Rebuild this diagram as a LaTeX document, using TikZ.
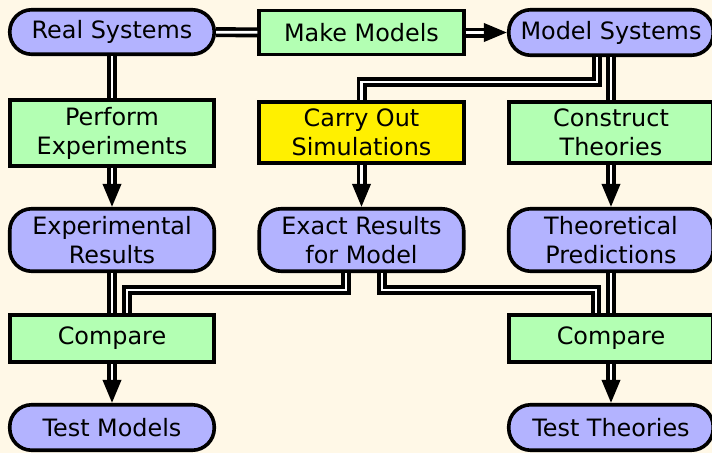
\documentclass[tikz,border=0pt]{standalone}
\usepackage{fontspec}
\setmainfont{DejaVu Sans}
\usetikzlibrary{arrows.meta}
\definecolor{bg}{HTML}{FFF8E7}
\definecolor{pblue}{HTML}{B3B3FF}
\definecolor{pgreen}{HTML}{B3FFB3}
\definecolor{pyellow}{HTML}{FFF000}
\tikzset{
  box/.style={draw=black, line width=3.6pt, minimum width=204.5pt, align=center,
    inner sep=0pt, font=\fontsize{23.9}{29}\selectfont},
  rbox/.style={box, fill=pblue, rounded corners=22pt},
  sbox/.style={box, fill=pgreen},
  ybox/.style={box, fill=pyellow},
  dl/.style={draw=black, line width=3.6pt, double=white, double distance=2.8pt, line join=miter},
  dla/.style={dl, -{Triangle[length=23pt,width=18pt]}},
}
\begin{document}
\begin{tikzpicture}[x=1pt,y=-1pt]
\fill[bg] (0,0) rectangle (712,453);
\useasboundingbox (0,0) rectangle (712,453);
\clip (0,0) rectangle (712,453);
% row 1
\node[rbox, minimum height=44.5pt] (real) at (112,32) {Real Systems};
\node[sbox, minimum height=44pt] (make) at (361.5,32.5) {Make Models};
\node[rbox, minimum height=45.5pt] (model) at (611,32.5) {Model Systems};
% row 2
\node[sbox, minimum height=66pt] (perf) at (112,133) {Perform\\Experiments};
\node[ybox, minimum height=61.5pt] (carry) at (361.5,132.5) {Carry Out\\Simulations};
\node[sbox, minimum height=61.5pt] (constr) at (611,132.5) {Construct\\Theories};
% row 3
\node[rbox, minimum height=62.5pt] (expres) at (112,240) {Experimental\\Results};
\node[rbox, minimum height=62.5pt] (exact) at (361.5,240) {Exact Results\\for Model};
\node[rbox, minimum height=62.5pt] (theo) at (611,240) {Theoretical\\Predictions};
% row 4
\node[sbox, minimum height=47.5pt] (cmpL) at (112,338.5) {Compare};
\node[sbox, minimum height=47.5pt] (cmpR) at (611,338.5) {Compare};
% row 5
\node[rbox, minimum height=45.5pt] (testM) at (112,427.5) {Test Models};
\node[rbox, minimum height=45.5pt] (testT) at (611,427.5) {Test Theories};
% helper coordinates
\coordinate (k1) at (597,82);
\coordinate (k2) at (346,290);
\coordinate (k3) at (127,290);
\coordinate (k4) at (382,290);
\coordinate (k5) at (596,290);
% connectors
\draw[dl] (real) -- (make);
\draw[dla] (make) -- (model);
\draw[dl] (real) -- (perf);
\draw[dla] (perf) -- (expres);
\draw[dl] (model.south -| k1) -- (k1) -| (carry.north);
\draw[dl] (model) -- (constr);
\draw[dla] (carry) -- (exact);
\draw[dla] (constr) -- (theo);
\draw[dl] (expres) -- (cmpL);
\draw[dl] (exact.south -| k2) -- (k2) -- (k3) -- (k3 |- cmpL.north);
\draw[dl] (exact.south -| k4) -- (k4) -- (k5) -- (k5 |- cmpR.north);
\draw[dl] (theo) -- (cmpR);
\draw[dla] (cmpL) -- (testM);
\draw[dla] (cmpR) -- (testT);
\end{tikzpicture}
\end{document}
